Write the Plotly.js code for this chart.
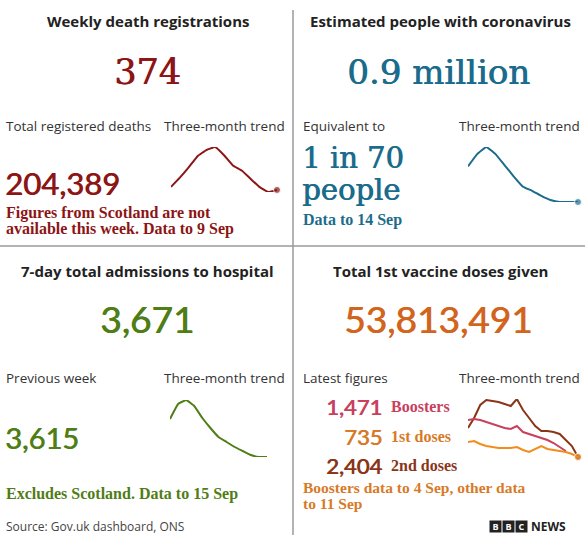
<!DOCTYPE html>
<html>
<head>
<meta charset="utf-8">
<script src="https://cdn.plot.ly/plotly-3.0.1.min.js"></script>
<style>html,body{margin:0;padding:0;background:#fff;}#chart{width:585px;height:535px;}</style>
</head>
<body>
<div id="chart"></div>
<script>
// ---- data ----
const deathsTrend = [410, 518, 638, 770, 842, 878, 782, 662, 602, 506, 410, 350, 374];
const coronaTrend = [1.60, 1.84, 1.98, 1.84, 1.62, 1.40, 1.20, 1.12, 1.02, 0.94, 0.90, 0.90, 0.90];
const hospitalTrend = [5571, 6321, 6521, 6221, 5621, 5121, 4671, 4421, 4171, 3971, 3771, 3671, 3671];
const secondDosesTrend = [42, 52, 65, 70, 69, 68, 66, 64, 71, 60, 52, 44, 39, 39, 38, 36, 30, 24, 13];
const boostersTrend = [50, 51, 50, 48, 46, 44, 42, 41, 44, 38, 36, 34, 32, 30, 27, 23, 19, null, null];
const firstDosesTrend = [28, 29, 26, 24, 23, 22, 22, 22, 23, 20, 18, 21, 24, 21, 20, 19, 18, 16, 13];

const headlines = ["Weekly death registrations", "Estimated people with coronavirus", "7-day total admissions to hospital", "Total 1st vaccine doses given"];
const bigNumbers = ["374", "0.9 million", "3,671", "53,813,491"];
const totalDeaths = "204,389";
const oneIn = ["1 in 70", "people"];
const previousWeek = "3,615";
const latestFigures = [["1,471", "Boosters"], ["735", "1st doses"], ["2,404", "2nd doses"]];

// ---- layout helpers ----
const W = 585, H = 535;
const X = p => p / W;
const Y = p => 1 - p / H;
const SANS = "'Open Sans', sans-serif";
const NUM = "Lato, sans-serif";
const SERIF = "'DejaVu Serif', serif";
const SERIFB = "'Liberation Serif', serif";
const C = {red: "#8c1515", teal: "#1b6c8c", green: "#4f7d16", orange: "#d2651e",
  pink: "#c8405e", dose1: "#d77a28", brown: "#8a3418", orangeLine: "#f28c1c"};

function idx(a) { return a.map((_, i) => i); }
function ann(text, px, py, o) {
  return Object.assign({text: text, x: X(px), y: Y(py), xref: "paper", yref: "paper",
    showarrow: false, xanchor: "left", yanchor: "middle", borderpad: 0,
    font: {family: SANS, size: 13.5, color: "#333"}}, o || {});
}
function line(y, color, ax, dot, smooth) {
  return {x: idx(y), y: y, type: "scatter", mode: dot ? "lines+markers" : "lines",
    xaxis: "x" + ax, yaxis: "y" + ax,
    line: smooth ? {color: color, width: 2, shape: "spline", smoothing: 0.25} : {color: color, width: 2},
    marker: {size: y.map((v, i) => i === y.length - 1 ? 7 : 0), color: color},
    cliponaxis: false, hoverinfo: "skip", connectgaps: false};
}

const traces = [
  line(deathsTrend, C.red, "", true, true),
  line(coronaTrend, C.teal, "2", true, true),
  line(hospitalTrend, C.green, "3", false, true),
  line(secondDosesTrend, C.brown, "4", true, false),
  line(boostersTrend, C.pink, "4", false, false),
  line(firstDosesTrend, C.orangeLine, "4", true, false)
];

function ax(x0, x1, n) { return {domain: [X(x0), X(x1)], range: [0, n - 1], visible: false, fixedrange: true}; }
function ay(y0, y1, lo, hi) { return {domain: [Y(y1), Y(y0)], range: [lo, hi], visible: false, fixedrange: true}; }

const head = {family: SANS, size: 15, color: "#222", weight: "bold"};
const note = c => ({family: SERIFB, size: 16, color: c, weight: "bold"});
const med = (fam, size, c) => ({family: fam, size: size, color: c, shadow: "0.7px 0 0 " + c});

const annotations = [
  ann(headlines[0], 148, 21, {xanchor: "center", font: head}),
  ann(bigNumbers[0], 147, 72, {xanchor: "center", font: med(SERIF, 35, C.red)}),
  ann(headlines[1], 440, 21, {xanchor: "center", font: head}),
  ann(bigNumbers[1], 438, 72, {xanchor: "center", font: med(SERIF, 34, C.teal)}),
  ann("Total registered deaths", 5, 126),
  ann("Three-month trend", 163, 126),
  ann(totalDeaths, 4, 183, {font: med(NUM, 31, C.red)}),
  ann("Figures from Scotland are not", 5, 213, {font: note(C.red)}),
  ann("available this week. Data to 9 Sep", 5, 229, {font: note(C.red)}),
  ann("Equivalent to", 302, 126),
  ann("Three-month trend", 458, 126),
  ann(oneIn[0], 301, 158, {font: med(SERIF, 29, C.teal)}),
  ann(oneIn[1], 301, 190, {font: med(SERIF, 29, C.teal)}),
  ann("Data to 14 Sep", 302, 220, {font: note(C.teal)}),
  ann(headlines[2], 147, 271, {xanchor: "center", font: head}),
  ann(bigNumbers[2], 147, 318, {xanchor: "center", font: med(NUM, 37, C.green)}),
  ann(headlines[3], 440, 271, {xanchor: "center", font: head}),
  ann(bigNumbers[3], 438, 318, {xanchor: "center", font: med(NUM, 37, C.orange)}),
  ann("Previous week", 5, 378),
  ann("Three-month trend", 163, 378),
  ann(previousWeek, 4, 437, {font: med(NUM, 29, C.green)}),
  ann("Excludes Scotland. Data to 15 Sep", 5, 494, {font: note(C.green)}),
  ann("Latest figures", 302, 378),
  ann("Three-month trend", 458, 378),
  ann(latestFigures[0][0], 383, 406, {xanchor: "right", font: med(NUM, 22, C.pink)}),
  ann(latestFigures[0][1], 390, 406, {font: note(C.pink)}),
  ann(latestFigures[1][0], 383, 436, {xanchor: "right", font: med(NUM, 22, C.dose1)}),
  ann(latestFigures[1][1], 390, 436, {font: note(C.dose1)}),
  ann(latestFigures[2][0], 383, 465, {xanchor: "right", font: med(NUM, 22, C.brown)}),
  ann(latestFigures[2][1], 390, 465, {font: note(C.brown)}),
  ann("Boosters data to 4 Sep, other data", 302, 487, {font: Object.assign(note(C.dose1), {size: 15.5})}),
  ann("to 11 Sep", 302, 503, {font: Object.assign(note(C.dose1), {size: 15.5})}),
  ann("Source: Gov.uk dashboard, ONS", 5, 526, {font: {family: SANS, size: 12, color: "#444"}}),
  ann("B", 495, 526, {xanchor: "center", bgcolor: "#222", font: {family: SANS, size: 9, color: "#fff", weight: "bold"}, width: 11, height: 11}),
  ann("B", 508, 526, {xanchor: "center", bgcolor: "#222", font: {family: SANS, size: 9, color: "#fff", weight: "bold"}, width: 11, height: 11}),
  ann("C", 521, 526, {xanchor: "center", bgcolor: "#222", font: {family: SANS, size: 9, color: "#fff", weight: "bold"}, width: 11, height: 11}),
  ann("NEWS", 530, 526, {font: {family: SANS, size: 12, color: "#222", weight: "bold"}})
];

const layout = {
  width: W, height: H, margin: {l: 0, r: 0, t: 0, b: 0},
  paper_bgcolor: "#fff", plot_bgcolor: "rgba(0,0,0,0)", showlegend: false,
  xaxis: ax(171, 277, deathsTrend.length), yaxis: ay(147, 192, 350, 878),
  xaxis2: ax(468, 578, coronaTrend.length), yaxis2: ay(147, 202, 0.9, 1.98),
  xaxis3: ax(170, 267, hospitalTrend.length), yaxis3: ay(400, 457, 3671, 6521),
  xaxis4: ax(468, 578, secondDosesTrend.length), yaxis4: ay(399, 457, 13, 71),
  shapes: [
    {type: "line", xref: "paper", yref: "paper", x0: X(293), x1: X(293), y0: Y(10), y1: Y(535), line: {color: "#9a9a9a", width: 1.5}},
    {type: "line", xref: "paper", yref: "paper", x0: 0, x1: 1, y0: Y(246), y1: Y(246), line: {color: "#9a9a9a", width: 1.5}}
  ],
  annotations: annotations
};

Plotly.newPlot("chart", traces, layout, {staticPlot: true, displayModeBar: false});
</script>
</body>
</html>
